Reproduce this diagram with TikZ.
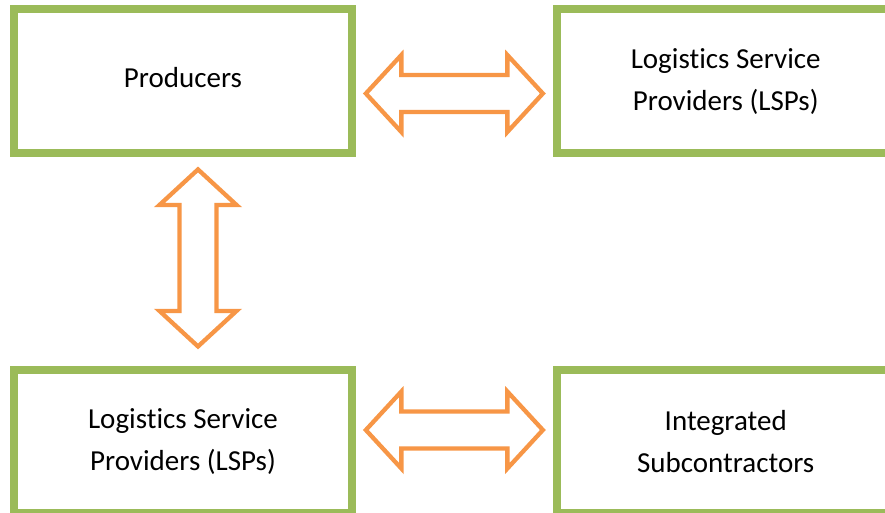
\documentclass[tikz,border=0pt]{standalone}
\usepackage{fontspec}
\setmainfont{Carlito}[RawFeature={-liga;-clig;-calt;-dlig}]
\usetikzlibrary{calc}
\definecolor{boxgreen}{HTML}{9BBB59}
\definecolor{arroworange}{HTML}{F79646}
\tikzset{
  entity/.style={draw=boxgreen, line width=8pt, fill=white, minimum width=338pt, minimum height=143.5pt,
    inner sep=0pt, align=center, font=\fontsize{29}{42}\selectfont, text=black},
  blockarrow/.style={draw=arroworange, fill=white, line width=4.3pt, miter limit=10, line join=miter}
}
\newcommand{\dblblock}{%
  \path[blockarrow] (-88.5,0) -- (-53,-38.5) -- (-53,-18.5) -- (53,-18.5) -- (53,-38.5) -- (88.5,0)
    -- (53,38.5) -- (53,18.5) -- (-53,18.5) -- (-53,38.5) -- cycle;}
\newcommand{\Logis}{Logist\kern0pt ics}
\begin{document}
\begin{tikzpicture}[x=1pt, y=-1pt]
  \useasboundingbox (0,0) rectangle (885,512);
  \clip (0,0) rectangle (885,512);
  \node[entity, text depth=7pt] (A) at (183,81.2) {Producers};
  \node[entity] (B) at (725.7,81.2) {\Logis{} Service\\Providers (LSPs)};
  \node[entity] (C) at (183,441.5) {\Logis{} Service\\Providers (LSPs)};
  \node[entity] (D) at (725.7,441.5) {Integrated\\Subcontractors};
  \begin{scope}[shift={($(A.east)!0.5!(B.west)+(0,12.3)$)}]
    \dblblock
  \end{scope}
  \begin{scope}[shift={($(A.south)!0.5!(C.north)+(15,-3.4)$)}, rotate=90]
    \dblblock
  \end{scope}
  \begin{scope}[shift={($(C.east)!0.5!(D.west)+(0,-11.5)$)}]
    \dblblock
  \end{scope}
\end{tikzpicture}
\end{document}
